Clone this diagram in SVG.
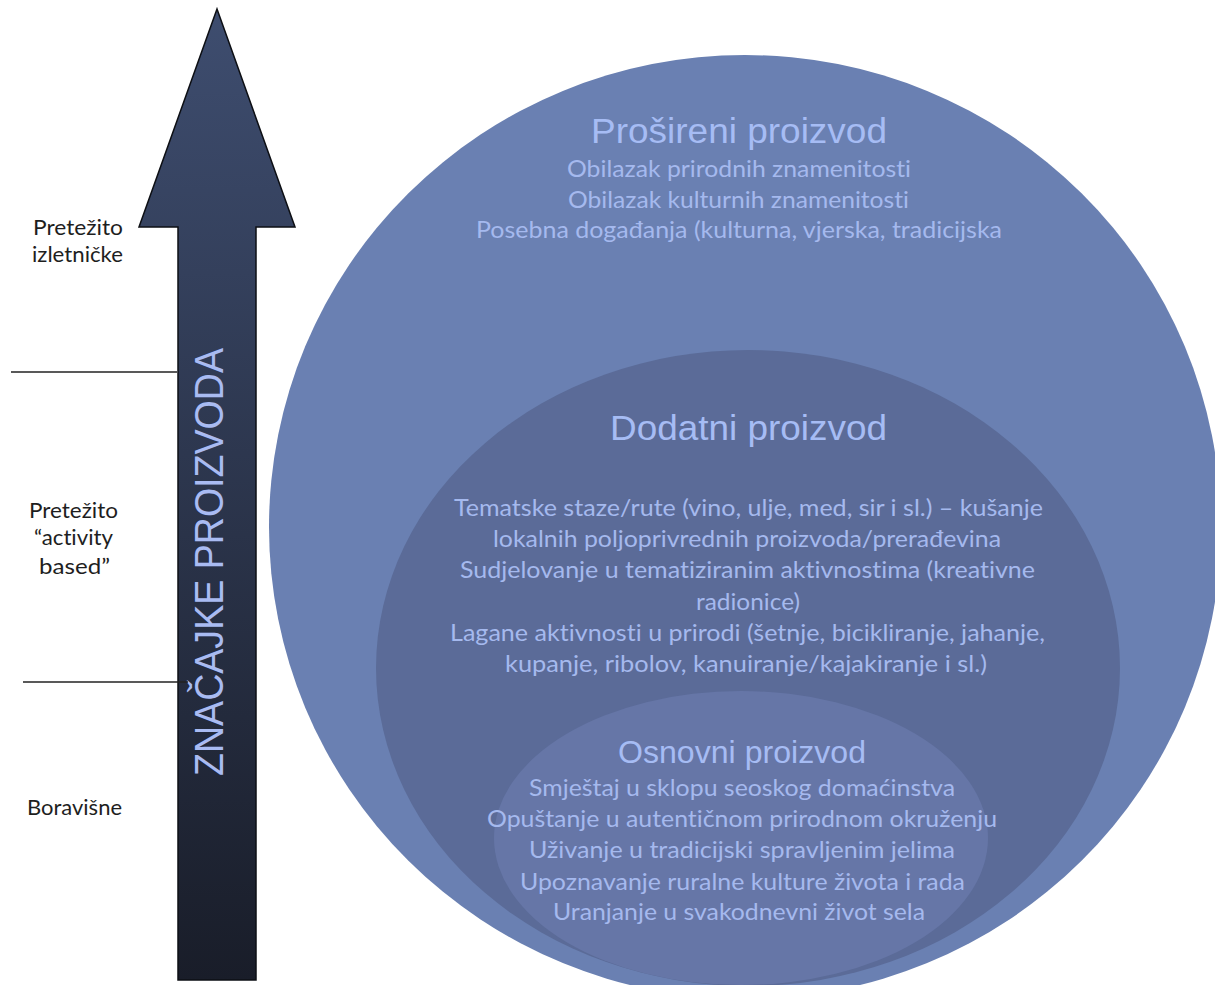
<svg xmlns="http://www.w3.org/2000/svg" width="1215" height="985" viewBox="0 0 1215 985">
  <defs>
    <linearGradient id="arrowGrad" x1="0" y1="0" x2="0" y2="1">
      <stop offset="0" stop-color="#3e4d6f"/>
      <stop offset="1" stop-color="#191d29"/>
    </linearGradient>
    <style>
      .lbl { font-family: Lato, "Liberation Sans", sans-serif; font-size: 22px; fill: #1e1e1e; text-anchor: middle; font-variant-ligatures: none; }
      .ttl { font-family: "Liberation Sans", Arial, sans-serif; fill: #a6bcf4; text-anchor: middle; }
      .body { font-family: Lato, "Liberation Sans", sans-serif; font-size: 23px; fill: #a5b9ee; text-anchor: middle; font-variant-ligatures: none; }
      .div { stroke: #222; stroke-width: 1.3; fill: none; }
    </style>
  </defs>
  <rect width="1215" height="985" fill="#ffffff"/>

  <g id="arrow">
    <polygon points="217,9 295,227 256,227 256,980 178,980 178,227 139,227" fill="url(#arrowGrad)" stroke="#0d0f14" stroke-width="1.5" stroke-linejoin="miter"/>
    <text transform="translate(223,562) rotate(-90)" x="0" y="0" font-family="'Liberation Sans', Arial, sans-serif" font-size="40" fill="#a9bbf2" text-anchor="middle" textLength="428" lengthAdjust="spacingAndGlyphs">ZNAČAJKE PROIZVODA</text>
  </g>

  <g id="dividers">
    <line class="div" x1="11" y1="372" x2="177" y2="372"/>
    <line class="div" x1="23" y1="682" x2="188" y2="682"/>
  </g>

  <g id="level-labels">
    <text class="lbl" x="78" y="235" textLength="90" lengthAdjust="spacingAndGlyphs">Pretežito</text>
    <text class="lbl" x="77.5" y="262" textLength="91" lengthAdjust="spacingAndGlyphs">izletničke</text>
    <text class="lbl" x="73.5" y="518" textLength="89" lengthAdjust="spacingAndGlyphs">Pretežito</text>
    <text class="lbl" x="73.5" y="545" textLength="79" lengthAdjust="spacingAndGlyphs">“activity</text>
    <text class="lbl" x="74.5" y="574" textLength="71" lengthAdjust="spacingAndGlyphs">based”</text>
    <text class="lbl" x="74.5" y="815" textLength="95" lengthAdjust="spacingAndGlyphs">Boravišne</text>
  </g>

  <g id="prosireni">
    <ellipse cx="745" cy="527" rx="476" ry="472" fill="#6a80b2"/>
    <text class="ttl" x="739" y="143" font-size="35" textLength="296" lengthAdjust="spacingAndGlyphs">Prošireni proizvod</text>
    <text class="body" x="739" y="177" textLength="344" lengthAdjust="spacingAndGlyphs">Obilazak prirodnih znamenitosti</text>
    <text class="body" x="738.5" y="208" textLength="341" lengthAdjust="spacingAndGlyphs">Obilazak kulturnih znamenitosti</text>
    <text class="body" x="739" y="238" textLength="526" lengthAdjust="spacingAndGlyphs">Posebna događanja (kulturna, vjerska, tradicijska</text>
  </g>

  <g id="dodatni">
    <ellipse cx="748" cy="668" rx="372" ry="318" fill="#5b6b98"/>
    <text class="ttl" x="748.5" y="440" font-size="35" textLength="277" lengthAdjust="spacingAndGlyphs">Dodatni proizvod</text>
    <text class="body" x="748.5" y="516" textLength="589" lengthAdjust="spacingAndGlyphs">Tematske staze/rute (vino, ulje, med, sir i sl.) – kušanje</text>
    <text class="body" x="747" y="547" textLength="508" lengthAdjust="spacingAndGlyphs">lokalnih poljoprivrednih proizvoda/prerađevina</text>
    <text class="body" x="747.5" y="578" textLength="575" lengthAdjust="spacingAndGlyphs">Sudjelovanje u tematiziranim aktivnostima (kreativne</text>
    <text class="body" x="748" y="610" textLength="104" lengthAdjust="spacingAndGlyphs">radionice)</text>
    <text class="body" x="747.5" y="641" textLength="595" lengthAdjust="spacingAndGlyphs">Lagane aktivnosti u prirodi (šetnje, bicikliranje, jahanje,</text>
    <text class="body" x="746" y="672" textLength="482" lengthAdjust="spacingAndGlyphs">kupanje, ribolov, kanuiranje/kajakiranje i sl.)</text>
  </g>

  <g id="osnovni">
    <ellipse cx="741" cy="838" rx="247" ry="147" fill="#6676a7"/>
    <text class="ttl" x="742" y="763" font-size="31" textLength="248" lengthAdjust="spacingAndGlyphs">Osnovni proizvod</text>
    <text class="body" x="742" y="796" textLength="426" lengthAdjust="spacingAndGlyphs">Smještaj u sklopu seoskog domaćinstva</text>
    <text class="body" x="742" y="827" textLength="510" lengthAdjust="spacingAndGlyphs">Opuštanje u autentičnom prirodnom okruženju</text>
    <text class="body" x="742" y="858" textLength="426" lengthAdjust="spacingAndGlyphs">Uživanje u tradicijski spravljenim jelima</text>
    <text class="body" x="742.5" y="890" textLength="445" lengthAdjust="spacingAndGlyphs">Upoznavanje ruralne kulture života i rada</text>
    <text class="body" x="739" y="920" textLength="372" lengthAdjust="spacingAndGlyphs">Uranjanje u svakodnevni život sela</text>
  </g>
</svg>
